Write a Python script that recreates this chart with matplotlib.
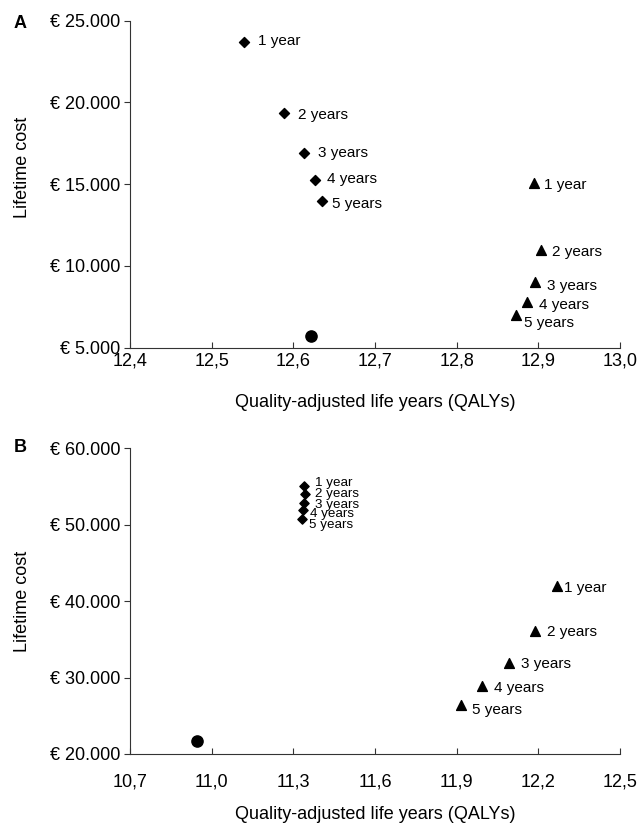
import matplotlib
matplotlib.use('Agg')
import matplotlib.pyplot as plt
from matplotlib.ticker import FuncFormatter

plt.rcParams['font.family'] = ['Liberation Sans', 'DejaVu Sans']

# panel A data
a_dia_x = [12.540, 12.589, 12.613, 12.626, 12.635]
a_dia_y = [23680, 19330, 16930, 15260, 13970]
a_tri_x = [12.895, 12.903, 12.896, 12.886, 12.873]
a_tri_y = [15100, 11000, 9000, 7800, 7000]
a_dot_x = [12.622]
a_dot_y = [5730]

# panel B data
b_dia_x = [11.340, 11.342, 11.340, 11.336, 11.331]
b_dia_y = [55100, 54000, 52900, 51900, 50800]
b_tri_x = [12.268, 12.188, 12.091, 11.995, 11.915]
b_tri_y = [41950, 36100, 31950, 28850, 26450]
b_dot_x = [10.944]
b_dot_y = [21750]

labels = ['1 year', '2 years', '3 years', '4 years', '5 years']


def euro(v, pos):
    return '€ ' + '{:,.0f}'.format(v).replace(',', '.')


def comma(v, pos):
    return '{:.1f}'.format(v).replace('.', ',')


def style_ax(ax, xpad, ylab_y, xlab_y):
    ax.spines['top'].set_visible(False)
    ax.spines['right'].set_visible(False)
    for s in ['left', 'bottom']:
        ax.spines[s].set_color('#333333')
    ax.tick_params(axis='y', direction='out', length=4, labelsize=13, pad=3, color='#333333')
    ax.tick_params(axis='x', direction='in', length=4, labelsize=13, pad=xpad, color='#333333')
    ax.yaxis.set_major_formatter(FuncFormatter(euro))
    ax.xaxis.set_major_formatter(FuncFormatter(comma))
    ax.set_ylabel('Lifetime cost', fontsize=13)
    ax.set_xlabel('Quality-adjusted life years (QALYs)', fontsize=13)
    ax.yaxis.set_label_coords(-0.203, ylab_y)
    ax.xaxis.set_label_coords(0.5, xlab_y)


def put_labels(ax, xs, ys, offs, size):
    for x, y, t, o in zip(xs, ys, labels, offs):
        ax.annotate(t, (x, y), xytext=o, textcoords='offset points',
                    va='center', ha='left', fontsize=size)


fig = plt.figure(figsize=(6.41, 8.24), dpi=100)

# A
ax1 = fig.add_axes([0.203, 0.578, 0.764, 0.397])
ax1.scatter(a_dia_x, a_dia_y, marker='D', s=26, color='black', zorder=3)
ax1.scatter(a_tri_x, a_tri_y, marker='^', s=50, color='black', zorder=3)
ax1.scatter(a_dot_x, a_dot_y, marker='o', s=65, color='black', zorder=3)
put_labels(ax1, a_dia_x, a_dia_y,
           [(10, 1), (10, -1), (10, 0), (8.6, 1), (7.2, -2)], 11)
put_labels(ax1, a_tri_x, a_tri_y,
           [(7, -2), (8, -2), (8.6, -2.5), (8.6, -2.5), (5.5, -6)], 11)
ax1.set_xlim(12.4, 13.0)
ax1.set_ylim(5000, 25000)
ax1.set_xticks([12.4, 12.5, 12.6, 12.7, 12.8, 12.9, 13.0])
ax1.set_yticks([5000, 10000, 15000, 20000, 25000])
style_ax(ax1, 3.6, 0.55, -0.14)
fig.text(0.031, 0.972, 'A', fontsize=13, fontweight='bold', ha='center', va='center')

# B
ax2 = fig.add_axes([0.203, 0.085, 0.764, 0.371])
ax2.scatter(b_dia_x, b_dia_y, marker='D', s=22, color='black', zorder=3)
ax2.scatter(b_tri_x, b_tri_y, marker='^', s=50, color='black', zorder=3)
ax2.scatter(b_dot_x, b_dot_y, marker='o', s=65, color='black', zorder=3)
put_labels(ax2, b_dia_x, b_dia_y,
           [(7.5, 1.7), (7.2, 0), (7.5, -1.7), (5, -2.9), (5.5, -4.3)], 9.6)
put_labels(ax2, b_tri_x, b_tri_y,
           [(5.5, -1.5), (8.6, -1), (8.6, -1), (8.6, -1), (8, -3.6)], 11)
ax2.set_xlim(10.7, 12.5)
ax2.set_ylim(20000, 60000)
ax2.set_xticks([10.7, 11.0, 11.3, 11.6, 11.9, 12.2, 12.5])
ax2.set_yticks([20000, 30000, 40000, 50000, 60000])
style_ax(ax2, 14, 0.5, -0.17)
fig.text(0.031, 0.457, 'B', fontsize=13, fontweight='bold', ha='center', va='center')

fig.savefig('out.png', dpi=100)
